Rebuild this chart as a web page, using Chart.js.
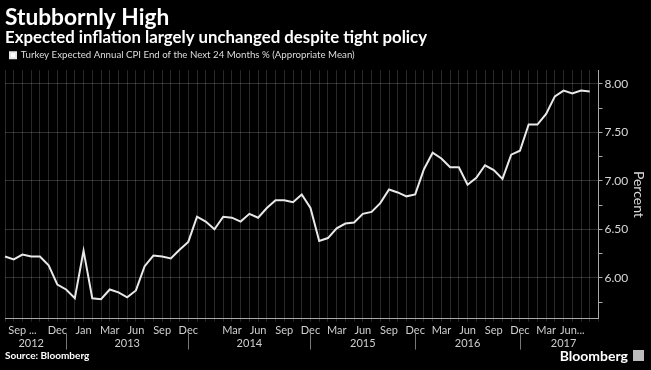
<!DOCTYPE html>
<html>
<head>
<meta charset="utf-8">
<script src="https://cdn.jsdelivr.net/npm/chart.js@4"></script>
<style>
  body { margin: 0; background: #000; }
  #wrap { width: 651px; height: 370px; position: relative; }
</style>
</head>
<body>
<div id="wrap"><canvas id="cpi"></canvas></div>
<script>
// Turkey expected annual CPI, end of next 24 months (%)
var cpiExp = [6.22, 6.19, 6.24, 6.22, 6.22, 6.13, 5.93, 5.88, 5.79, 6.28,
              5.79, 5.78, 5.88, 5.85, 5.80, 5.87, 6.12, 6.23, 6.22, 6.20,
              6.29, 6.37, 6.63, 6.58, 6.50, 6.63, 6.62, 6.58, 6.66, 6.62,
              6.72, 6.80, 6.80, 6.78, 6.86, 6.72, 6.38, 6.41, 6.51, 6.56,
              6.57, 6.66, 6.68, 6.77, 6.91, 6.88, 6.84, 6.86, 7.12, 7.29,
              7.23, 7.14, 7.14, 6.96, 7.03, 7.16, 7.11, 7.02, 7.27, 7.31,
              7.58, 7.58, 7.69, 7.87, 7.93, 7.90, 7.93, 7.92];

// x axis labels (index of the observation they sit under)
var monthIdx = [2, 6, 9, 12, 15, 18, 21, 26, 29, 32, 35, 38, 41, 44, 47, 50, 53, 56, 59, 62, 65];
var monthTxt = ['Sep ...', 'Dec', 'Jan', 'Mar', 'Jun', 'Sep', 'Dec', 'Mar', 'Jun', 'Sep', 'Dec',
                'Mar', 'Jun', 'Sep', 'Dec', 'Mar', 'Jun', 'Sep', 'Dec', 'Mar', 'Jun...'];
var yearIdx = [3, 14, 28, 41, 53, 64];
var yearTxt = ['2012', '2013', '2014', '2015', '2016', '2017'];
var yearBreaks = [7, 21, 35, 47, 59];

var labels = [];
for (var i = 0; i <= cpiExp.length; i++) {
  var m = monthIdx.indexOf(i), y = yearIdx.indexOf(i);
  labels.push([m >= 0 ? monthTxt[m] : '', y >= 0 ? yearTxt[y] : '']);
}

var FONT = 'Lato, "Open Sans", sans-serif';
Chart.defaults.font.family = FONT;
Chart.defaults.color = '#cfcfcf';

function isMajor(v) { return Math.abs(v * 2 - Math.round(v * 2)) < 1e-6; }

// year separators + footer
var extras = {
  id: 'extras',
  afterDraw: function (chart) {
    var c = chart.ctx, xs = chart.scales.x;
    c.save();
    c.strokeStyle = '#777';
    c.lineWidth = 1;
    yearBreaks.forEach(function (b) {
      var px = Math.round(xs.getPixelForValue(b)) + 0.5;
      c.beginPath();
      c.moveTo(px, xs.top + 15);
      c.lineTo(px, xs.top + 31);
      c.stroke();
    });
    c.fillStyle = '#fff';
    c.textBaseline = 'middle';
    c.font = 'bold 10px ' + FONT;
    c.fillText('Source: Bloomberg', 5, 356);
    c.font = 'bold 14px ' + FONT;
    c.textAlign = 'right';
    c.fillText('Bloomberg', 628, 356);
    c.fillStyle = '#bbb';
    c.fillRect(633, 350, 11, 11);
    c.restore();
  }
};

var ctx = document.getElementById('cpi').getContext('2d');
var chart = new Chart(ctx, {
  type: 'line',
  data: {
    labels: labels,
    datasets: [{
      label: 'Turkey Expected Annual CPI End of the Next 24 Months % (Appropriate Mean)',
      data: cpiExp,
      borderColor: '#e8e8e8',
      backgroundColor: '#ffffff',
      borderWidth: 2,
      pointRadius: 0,
      tension: 0
    }]
  },
  options: {
    responsive: true,
    maintainAspectRatio: false,
    animation: false,
    layout: { padding: { left: 5, right: 2, top: 0, bottom: 18 } },
    scales: {
      x: {
        ticks: { autoSkip: false, maxRotation: 0, color: '#cfcfcf', font: { size: 11 }, padding: 2 },
        grid: { color: 'rgba(255,255,255,0.16)', tickLength: 3 },
        border: { color: '#aaa' }
      },
      y: {
        position: 'right',
        min: 5.58,
        max: 8.14,
        afterBuildTicks: function (s) {
          s.ticks = s.ticks.filter(function (t) { return Math.abs(t.value * 4 - Math.round(t.value * 4)) < 1e-6; });
        },
        ticks: {
          stepSize: 0.25,
          includeBounds: false,
          autoSkip: false,
          color: '#d8d8d8',
          font: { size: 12 },
          padding: 2,
          callback: function (v) { return isMajor(v) ? v.toFixed(2) : ''; }
        },
        grid: {
          color: function (c) {
            return c.tick && isMajor(c.tick.value) ? 'rgba(255,255,255,0.18)' : 'rgba(0,0,0,0)';
          },
          tickColor: '#aaa',
          tickLength: 4
        },
        border: { color: '#aaa' },
        title: { display: true, text: 'Percent', color: '#d8d8d8', font: { size: 14 }, padding: { top: 2, bottom: 0 } }
      }
    },
    plugins: {
      title: {
        display: true,
        text: 'Stubbornly High',
        align: 'start',
        color: '#ffffff',
        font: { size: 22.7, weight: 'bold', lineHeight: 1 },
        padding: { top: 6, bottom: 0 }
      },
      subtitle: {
        display: true,
        text: 'Expected inflation largely unchanged despite tight policy',
        align: 'start',
        color: '#ffffff',
        font: { size: 16.8, weight: 'bold', lineHeight: 1 },
        padding: { top: 0, bottom: 0 }
      },
      legend: {
        position: 'top',
        align: 'start',
        labels: { boxWidth: 6, boxHeight: 6, color: '#dddddd', font: { size: 9.7 }, padding: 5 }
      },
      tooltip: { enabled: false }
    }
  },
  plugins: [extras]
});
</script>
</body>
</html>
